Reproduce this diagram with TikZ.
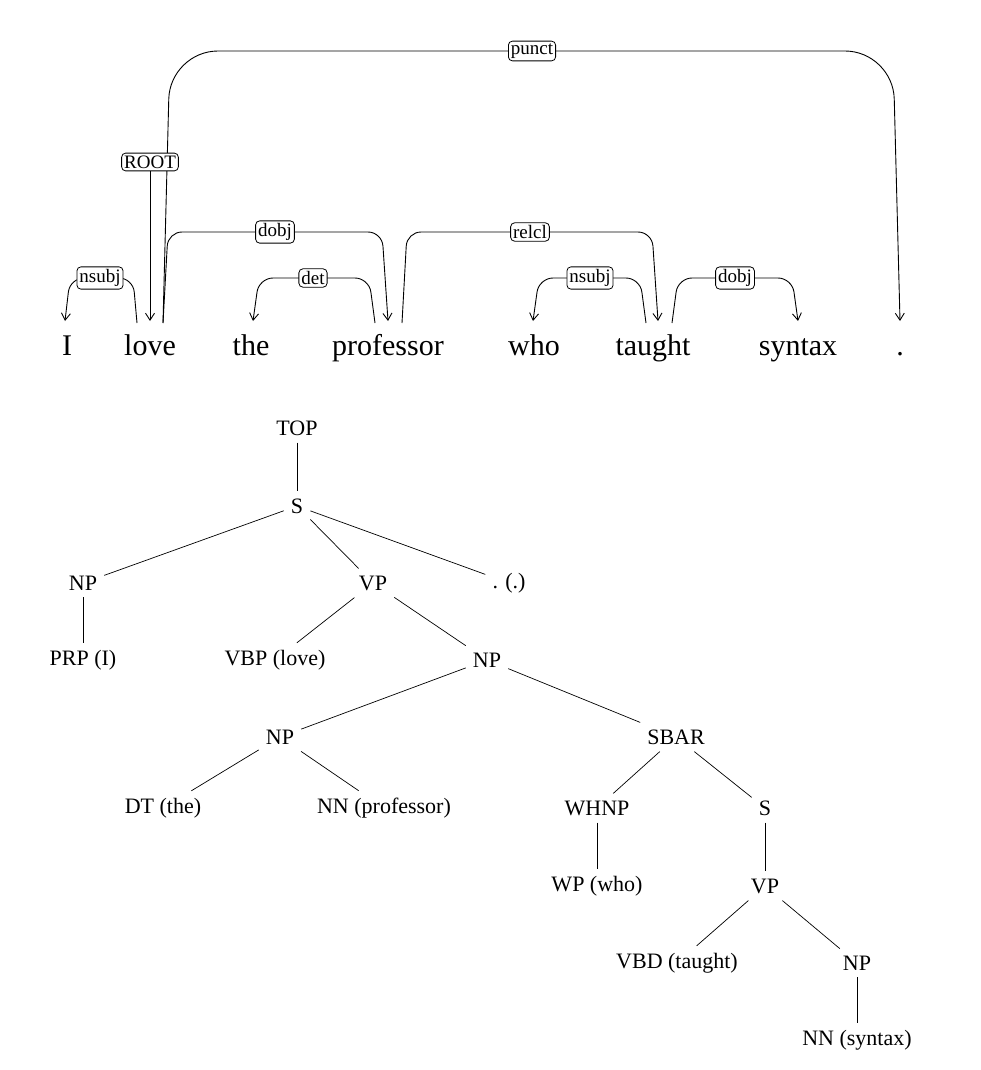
\documentclass[tikz,border=0pt]{standalone}
\usepackage{fontspec}
\usetikzlibrary{arrows.meta}
\setmainfont{Liberation Serif}
\begin{document}
\begin{tikzpicture}[x=1pt,y=-1pt,
  word/.style={font=\fontsize{30}{32}\selectfont, anchor=base, inner sep=0pt},
  lab/.style={draw, fill=white, rounded corners=4pt, font=\fontsize{19}{20}\selectfont, inner sep=2.5pt, line width=0.8pt},
  arc/.style={line width=0.9pt, rounded corners=14pt},
  tip/.style={-{Straight Barb[length=7pt,width=9pt]}},
  tn/.style={font=\fontsize{22}{24}\selectfont, inner sep=7pt},
  te/.style={line width=0.7pt}]
\useasboundingbox (0,0) rectangle (981,1070);
% words
\node[word] (w1) at (67,355) {I};
\node[word] (w2) at (150,355) {love};
\node[word] (w3) at (251,355) {the};
\node[word] (w4) at (388,355) {professor};
\node[word] (w5) at (534,355) {who};
\node[word] (w6) at (653,355) {taught};
\node[word] (w7) at (798,355) {syntax};
\node[word] (w8) at (900,355) {.};
% arcs
\coordinate (a1s) at (137,323); \coordinate (a1e) at (65,321);
\draw[arc,tip] (a1s) -- (133,278) -- (70,278) -- (a1e);
\node[lab] (l1) at (100,278) {nsubj};
\coordinate (rt) at (150,162); \coordinate (rte) at (150,321);
\draw[line width=0.9pt,tip] (rt) -- (rte);
\coordinate (ps) at (163,323); \coordinate (pe) at (900,321);
\draw[line width=0.9pt,tip,rounded corners=48pt] (ps) -- (170,51) -- (893,51) -- (pe);
\node[lab] (lp) at (532,51) {punct};
\node[lab] (lr) at (150,162) {ROOT};
\coordinate (d1s) at (163,323); \coordinate (d1e) at (388,321);
\draw[arc,tip] (d1s) -- (168,232) -- (382,232) -- (d1e);
\node[lab] (ld1) at (275,232) {dobj};
\coordinate (dts) at (375,323); \coordinate (dte) at (253,321);
\draw[arc,tip] (dts) -- (369,278) -- (259,278) -- (dte);
\node[lab] (ldt) at (313,278) {det};
\coordinate (rcs) at (402,323); \coordinate (rce) at (658,321);
\draw[arc,tip] (rcs) -- (407,232) -- (652,232) -- (rce);
\node[lab] (lrc) at (530,232) {relcl};
\coordinate (n2s) at (646,323); \coordinate (n2e) at (533,321);
\draw[arc,tip] (n2s) -- (640,278) -- (539,278) -- (n2e);
\node[lab] (ln2) at (590,278) {nsubj};
\coordinate (d2s) at (672,323); \coordinate (d2e) at (798,321);
\draw[arc,tip] (d2s) -- (678,278) -- (792,278) -- (d2e);
\node[lab] (ld2) at (735,278) {dobj};
% tree
\node[tn] (top) at (297,428) {TOP};
\node[tn] (s1) at (297,506) {S};
\node[tn] (np1) at (83,583) {NP};
\node[tn] (vp1) at (373,583) {VP};
\node[tn] (pu) at (509,583) {. (.)};
\node[tn] (prp) at (83,660) {PRP (I)};
\node[tn] (vbp) at (275,660) {VBP (love)};
\node[tn] (np2) at (487,660) {NP};
\node[tn] (np3) at (280,737) {NP};
\node[tn] (sbar) at (676,737) {SBAR};
\node[tn] (dt) at (163,808) {DT (the)};
\node[tn] (nn1) at (384,808) {NN (professor)};
\node[tn] (whnp) at (597,808) {WHNP};
\node[tn] (s2) at (765,808) {S};
\node[tn] (wp) at (597,886) {WP (who)};
\node[tn] (vp2) at (765,886) {VP};
\node[tn] (vbd) at (677,963) {VBD (taught)};
\node[tn] (np4) at (857,963) {NP};
\node[tn] (nn2) at (857,1040) {NN (syntax)};
\foreach \a/\b in {top/s1,s1/np1,s1/vp1,s1/pu,np1/prp,vp1/vbp,vp1/np2,np2/np3,np2/sbar,np3/dt,np3/nn1,sbar/whnp,sbar/s2,whnp/wp,s2/vp2,vp2/vbd,vp2/np4,np4/nn2}
  \draw[te] (\a) -- (\b);
\end{tikzpicture}
\end{document}
